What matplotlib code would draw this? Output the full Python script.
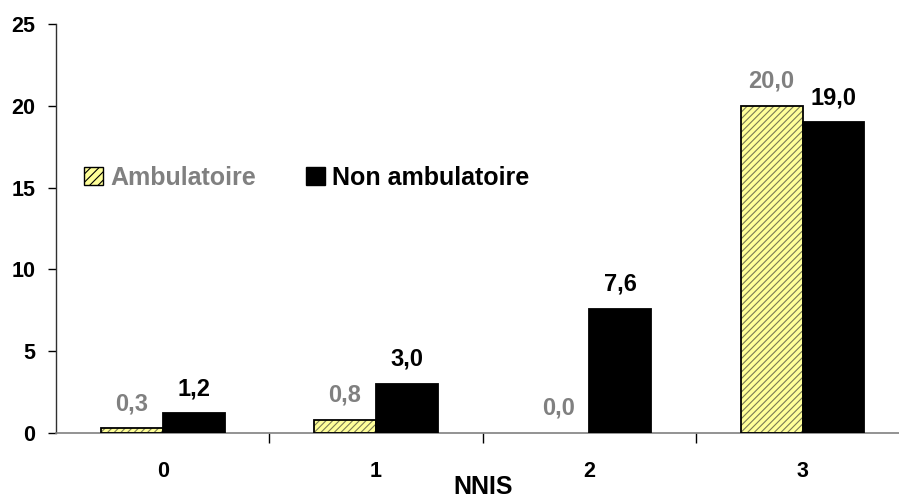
import matplotlib
matplotlib.use("Agg")
import matplotlib.pyplot as plt
from matplotlib.patches import Patch
import numpy as np

# --- Données ---
categories = ["0", "1", "2", "3"]
ambulatoire = [0.3, 0.8, 0.0, 20.0]
non_ambulatoire = [1.2, 3.0, 7.6, 19.0]
series_noms = ["Ambulatoire", "Non ambulatoire"]
x_titre = "NNIS"
y_ticks = [0, 5, 10, 15, 20, 25]

plt.rcParams["font.family"] = ["Liberation Sans", "DejaVu Sans"]
plt.rcParams["font.weight"] = "bold"
plt.rcParams["hatch.linewidth"] = 0.8

W, H = 899, 498
fig = plt.figure(figsize=(W / 100, H / 100), dpi=100)
ax = fig.add_axes([56 / W, (H - 433) / H, (W - 56) / W, (433 - 24) / H])

x = np.arange(len(categories))
larg = 0.29
jaune = "#FFFF99"
gris = "#808080"

# barres ambulatoire : fond hachuré puis contour noir (pas de contour si valeur nulle)
contours = [1.3 if v > 0 else 0 for v in ambulatoire]
ax.bar(x - larg / 2, ambulatoire, larg, color=jaune, edgecolor="#7a7a55",
       hatch="/////", linewidth=0, zorder=2)
ax.bar(x - larg / 2, ambulatoire, larg, fill=False, edgecolor="black",
       linewidth=contours, zorder=3)
ax.bar(x + larg / 2, non_ambulatoire, larg, color="black", edgecolor="black",
       linewidth=1.3, zorder=3)

def fmt(v):
    return f"{v:.1f}".replace(".", ",")

for xi, v in zip(x - larg / 2, ambulatoire):
    ax.annotate(fmt(v), (xi, v), xytext=(0, 13), textcoords="offset points",
                ha="center", va="baseline", fontsize=17, fontweight="bold", color=gris)
for xi, v in zip(x + larg / 2, non_ambulatoire):
    ax.annotate(fmt(v), (xi, v), xytext=(0, 13), textcoords="offset points",
                ha="center", va="baseline", fontsize=17, fontweight="bold", color="black")

# axes
ax.set_xlim(-0.5, -0.5 + (W - 56) / 213.3)
ax.set_ylim(0, 25)
ax.set_yticks(y_ticks)
ax.set_yticklabels([str(t) for t in y_ticks], fontsize=15.5, fontweight="bold")
ax.tick_params(axis="y", length=6, width=1, pad=9)

ax.set_xticks([0.5, 1.5, 2.5])
ax.set_xticklabels([])
ax.set_xticks(x, minor=True)
ax.set_xticklabels(categories, minor=True, fontsize=15.5, fontweight="bold")
ax.tick_params(axis="x", which="major", length=7, width=1)
ax.tick_params(axis="x", which="minor", length=0, pad=20)

for s in ["top", "right"]:
    ax.spines[s].set_visible(False)
ax.spines["left"].set_color("#303030")
ax.spines["bottom"].set_color(gris)
ax.spines["left"].set_linewidth(1)
ax.spines["bottom"].set_linewidth(1.2)

fig.text(483 / W, 1 - 487 / H, x_titre, ha="center", va="center",
         fontsize=18, fontweight="bold")

# légende
poignees = [
    Patch(facecolor=jaune, edgecolor="black", hatch="////", linewidth=1),
    Patch(facecolor="black", edgecolor="black"),
]
leg = ax.legend(poignees, series_noms, ncol=2, frameon=False,
                loc="center left", bbox_to_anchor=((84 - 56) / (W - 56), (433 - 178) / 409),
                prop={"size": 18, "weight": "bold"}, handlelength=0.75,
                handleheight=0.75, handletextpad=0.3, columnspacing=2.0,
                borderpad=0, borderaxespad=0)
leg.get_texts()[0].set_color(gris)
leg.get_texts()[1].set_color("black")

fig.savefig("out.png", dpi=100)
